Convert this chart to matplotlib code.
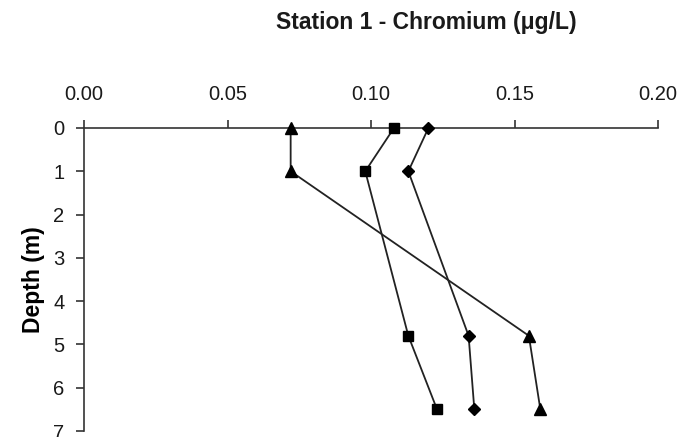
import matplotlib
matplotlib.use("Agg")
import matplotlib.pyplot as plt

plt.rcParams['font.family'] = ['Liberation Sans', 'DejaVu Sans']

depth = [0, 1, 4.8, 6.5]
triangle_vals = [0.072, 0.072, 0.155, 0.159]
square_vals = [0.108, 0.098, 0.113, 0.123]
diamond_vals = [0.120, 0.113, 0.134, 0.136]
xticks = [0.00, 0.05, 0.10, 0.15, 0.20]
yticks = [0, 1, 2, 3, 4, 5, 6, 7]

fig = plt.figure(figsize=(6.87, 4.37), dpi=100)
ax = fig.add_axes([0.1223, 0.0137, 0.8355, 0.6934])

lc = '#222222'
ax.plot(triangle_vals, depth, color=lc, lw=1.3, marker='^', ms=8, mfc='black', mec='black', clip_on=False, zorder=3)
ax.plot(square_vals, depth, color=lc, lw=1.3, marker='s', ms=7, mfc='black', mec='black', clip_on=False, zorder=3)
ax.plot(diamond_vals, depth, color=lc, lw=1.3, marker='D', ms=6, mfc='black', mec='black', clip_on=False, zorder=3)

ax.set_xlim(0, 0.20)
ax.set_ylim(7, 0)
ax.set_xticks(xticks)
ax.set_xticklabels([f"{v:.2f}" for v in xticks])
ax.set_yticks(yticks)
ax.xaxis.tick_top()
for s in ['right', 'bottom']:
    ax.spines[s].set_visible(False)
for s in ['top', 'left']:
    ax.spines[s].set_linewidth(1.2)
    ax.spines[s].set_color('#333333')
ax.tick_params(axis='x', direction='out', length=6, width=1.2, colors='#333333', pad=11, labelsize=14.5, labelcolor='#1a1a1a')
ax.tick_params(axis='y', direction='out', length=6, width=1.2, colors='#333333', pad=8, labelsize=14.5, labelcolor='#1a1a1a')
ax.set_ylabel('Depth (m)', fontsize=16.5, fontweight='bold', labelpad=6)

fig.text(0.62, 0.948, 'Station 1 - Chromium (μg/L)', ha='center', va='center', fontsize=16.5, fontweight='bold', color='#1a1a1a')

fig.savefig('out.png', dpi=100)
